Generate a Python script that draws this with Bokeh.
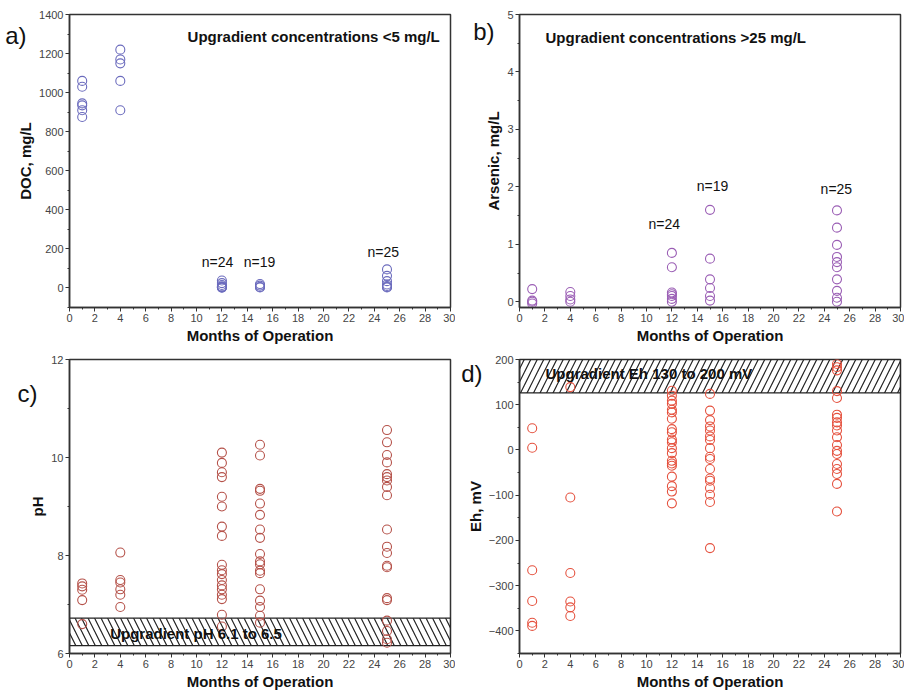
from bokeh.plotting import figure
from bokeh.layouts import column, row
from bokeh.models import Label, SingleIntervalTicker, Range1d, LinearAxis, FixedTicker
from bokeh.embed import file_html
from bokeh.resources import INLINE

FONT = "Liberation Sans"

# ---------------- data ----------------
# a) DOC, mg/L
doc_m1 = [1060, 1030, 945, 935, 910, 875]
doc_m4 = [1220, 1170, 1150, 1060, 910]
doc_m12 = [38, 25, 15, 8, 5, 3, 2]
doc_m15 = [20, 12, 5, 3]
doc_m25 = [95, 62, 35, 18, 10, 5, 3]

# b) Arsenic, mg/L
as_m1 = [0.22, 0.02, 0.0, -0.03]
as_m4 = [0.17, 0.10, 0.04, 0.0]
as_m12 = [0.85, 0.60, 0.16, 0.13, 0.10, 0.05, 0.0]
as_m15 = [1.60, 0.75, 0.39, 0.24, 0.10, 0.02]
as_m25 = [1.59, 1.29, 0.99, 0.78, 0.69, 0.60, 0.39, 0.19, 0.07, 0.0]

# c) pH
ph_m1 = [7.43, 7.37, 7.30, 7.09, 6.60]
ph_m4 = [8.06, 7.50, 7.45, 7.31, 7.20, 6.95]
ph_m12 = [10.10, 9.89, 9.70, 9.60, 9.20, 9.00, 8.59, 8.40, 7.81, 7.70, 7.62,
          7.50, 7.39, 7.31, 7.20, 7.11, 6.79, 6.55]
ph_m15 = [10.26, 10.04, 9.36, 9.32, 9.06, 8.83, 8.53, 8.36, 8.03, 7.88, 7.82,
          7.69, 7.64, 7.31, 7.08, 6.95, 6.77, 6.63]
ph_m25 = [10.56, 10.31, 10.05, 9.90, 9.66, 9.60, 9.53, 9.40, 9.23, 8.53, 8.18,
          8.05, 7.79, 7.76, 7.13, 7.09, 6.67, 6.46, 6.29, 6.22]
ph_band = [6.16, 6.72]

# d) Eh, mV
eh_m1 = [48, 5, -266, -334, -382, -389]
eh_m4 = [139, -105, -272, -335, -348, -367]
eh_m12 = [131, 120, 109, 102, 89, 83, 69, 46, 39, 23, 17, 4, -7, -24, -30, -35,
          -59, -80, -92, -118]
eh_m15 = [124, 87, 66, 52, 43, 30, 22, 4, -15, -20, -42, -63, -68, -84, -99,
          -115, -217]
eh_m25 = [190, 183, 176, 130, 115, 78, 71, 61, 54, 43, 28, 11, -2, -9, -31, -42,
          -53, -75, -136]
eh_band = [126, 200]

month_values = [1, 4, 12, 15, 25]
x_range_vals = [0, 30]


def expand(groups):
    xs, ys = [], []
    for m, vals in zip(month_values, groups):
        xs += [m] * len(vals)
        ys += vals
    return xs, ys


def make_fig(width, height, yr, ylabel, ymajor, yminor_n, mbl, mbr, mbt, mbb):
    p = figure(width=width, height=height, output_backend="svg", toolbar_location=None,
               x_range=Range1d(*x_range_vals), y_range=Range1d(*yr),
               min_border_left=mbl, min_border_right=mbr, min_border_top=mbt,
               min_border_bottom=mbb)
    p.grid.visible = False
    p.outline_line_color = "#333333"
    p.outline_line_width = 1.5
    p.background_fill_color = "white"
    p.border_fill_color = "white"
    p.xaxis.ticker = SingleIntervalTicker(interval=2, num_minor_ticks=2)
    p.yaxis.ticker = SingleIntervalTicker(interval=ymajor, num_minor_ticks=yminor_n)
    for ax in (p.xaxis[0], p.yaxis[0]):
        ax.axis_line_color = "#333333"
        ax.axis_line_width = 1.5
        ax.major_tick_line_color = "#333333"
        ax.minor_tick_line_color = "#333333"
        ax.major_tick_in = 0
        ax.major_tick_out = 4
        ax.minor_tick_in = 0
        ax.minor_tick_out = 2
        ax.major_label_text_font = FONT
        ax.major_label_text_color = "#444444"
        ax.major_label_text_font_size = "11px"
        ax.axis_label_text_font = FONT
        ax.axis_label_text_font_style = "bold"
        ax.axis_label_text_font_size = "15px"
        ax.axis_label_text_color = "#111111"
        ax.major_label_standoff = 2
        ax.axis_label_standoff = 2
    p.xaxis.axis_label = "Months of Operation"
    p.yaxis.axis_label = ylabel
    return p


def add_letter(p, ypos, letter, standoff):
    # panel letter drawn as a one-tick axis stacked left of the y axis
    ax = LinearAxis(ticker=FixedTicker(ticks=[ypos]), major_label_overrides={ypos: letter},
                    axis_line_color=None, major_tick_line_color=None,
                    minor_tick_line_color=None, major_tick_in=0, major_tick_out=0,
                    minor_tick_in=0, minor_tick_out=0,
                    major_label_text_font=FONT, major_label_text_font_size="24px",
                    major_label_text_color="#111111", major_label_standoff=standoff)
    p.add_layout(ax, "left")


def add_text(p, x, y, text, size, bold=False, align="left"):
    p.add_layout(Label(x=x, y=y, text=text, text_font=FONT, text_font_size=size,
                       text_font_style="bold" if bold else "normal",
                       text_align=align, text_baseline="middle",
                       text_color="#111111"))


# ---------------- panel a ----------------
pa = make_fig(455, 346, (-100, 1400), "DOC, mg/L", 200, 2, 69, 5, 14, 39)
x, y = expand([doc_m1, doc_m4, doc_m12, doc_m15, doc_m25])
pa.scatter(x, y, size=9, marker="circle", fill_color=None, line_color="#6b6bbd", line_width=1.1)
add_letter(pa, 1292, "a)", -12)
add_text(pa, 9.3, 1286, "Upgradient concentrations <5 mg/L", "15px", bold=True)
add_text(pa, 11.65, 133, "n=24", "14px", align="center")
add_text(pa, 14.96, 133, "n=19", "14px", align="center")
add_text(pa, 24.7, 185, "n=25", "14px", align="center")

# ---------------- panel b ----------------
pb = make_fig(449, 346, (-0.1, 5), "Arsenic, mg/L", 1, 2, 64, 4, 14, 39)
x, y = expand([as_m1, as_m4, as_m12, as_m15, as_m25])
pb.scatter(x, y, size=9, marker="circle", fill_color=None, line_color="#9b5fb5", line_width=1.1)
add_letter(pb, 4.7, "b)", -12)
add_text(pb, 2.05, 4.6, "Upgradient concentrations >25 mg/L", "15px", bold=True)
add_text(pb, 11.4, 1.36, "n=24", "14px", align="center")
add_text(pb, 15.2, 2.02, "n=19", "14px", align="center")
add_text(pb, 24.95, 1.96, "n=25", "14px", align="center")

# ---------------- panel c ----------------
pc = make_fig(455, 352, (6, 12), "pH", 2, 2, 69, 5, 13, 45)
pc.quad(left=[x_range_vals[0]], right=[x_range_vals[1]], bottom=[ph_band[0]], top=[ph_band[1]],
        fill_color=None, line_color="#222222", line_width=1.2,
        hatch_pattern="\\", hatch_color="#222222", hatch_scale=13, hatch_weight=1.2)
x, y = expand([ph_m1, ph_m4, ph_m12, ph_m15, ph_m25])
pc.scatter(x, y, size=9, marker="circle", fill_color=None, line_color="#b5524a", line_width=1.1)
add_letter(pc, 11.3, "c)", -11)
add_text(pc, 3.2, 6.41, "Upgradient pH 6.1 to 6.5", "15px", bold=True)

# ---------------- panel d ----------------
pd_ = make_fig(449, 352, (-450, 200), "Eh, mV", 100, 2, 64, 4, 13, 45)
pd_.quad(left=[x_range_vals[0]], right=[x_range_vals[1]], bottom=[eh_band[0]], top=[eh_band[1]],
         fill_color=None, line_color="#222222", line_width=1.2,
         hatch_pattern="/", hatch_color="#222222", hatch_scale=13, hatch_weight=1.2)
x, y = expand([eh_m1, eh_m4, eh_m12, eh_m15, eh_m25])
pd_.scatter(x, y, size=9, marker="circle", fill_color=None, line_color="#e5523f", line_width=1.1)
add_letter(pd_, 169, "d)", -19)
add_text(pd_, 2.05, 168, "Upgradient Eh 130 to 200 mV", "15px", bold=True)

layout = column(row(pa, pb), row(pc, pd_))
open("out.html", "w").write(file_html(layout, INLINE))
